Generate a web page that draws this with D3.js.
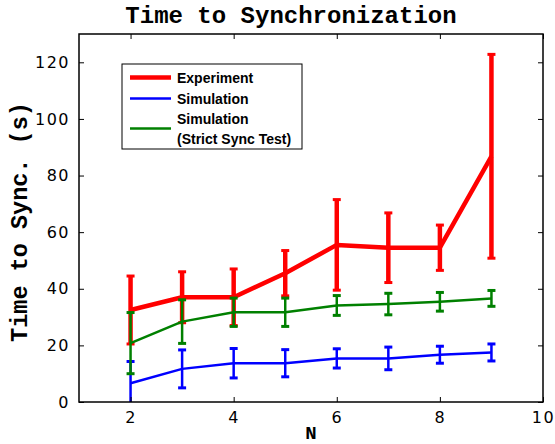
<!DOCTYPE html>
<html>
<head>
<meta charset="utf-8">
<script src="https://cdn.jsdelivr.net/npm/d3@7"></script>
<style>
  body { margin: 0; background: #fff; }
</style>
</head>
<body>
<div id="chart"></div>
<script>
// values
const nValues = [2, 3, 4, 5, 6, 7, 8, 9];
const expMean = [32.5, 37, 37, 45.5, 55.5, 54.5, 54.5, 86.8];
const expErr  = [12, 9, 10, 8, 16, 12.3, 8, 36];
const simMean = [6.6, 11.7, 13.7, 13.7, 15.4, 15.4, 16.7, 17.5];
const simErr  = [7.7, 6.7, 5.2, 4.8, 3.4, 4, 3, 3];
const strictMean = [20.8, 28.4, 31.7, 31.7, 34.1, 34.6, 35.4, 36.6];
const strictErr  = [10.8, 7.7, 5, 5, 3.5, 3.8, 3.3, 2.8];
const xTicks = [2, 4, 6, 8, 10];
const yTicks = [0, 20, 40, 60, 80, 100, 120];

const series = [
  {name: "Experiment", mean: expMean, err: expErr, color: "#ff0000", lw: 4.5},
  {name: "Simulation", mean: simMean, err: simErr, color: "#0000ff", lw: 2.5},
  {name: "Simulation (Strict Sync Test)", mean: strictMean, err: strictErr, color: "#008000", lw: 2.5}
];

const W = 555, H = 444;
const margin = {left: 79, right: 12, top: 34, bottom: 42};
const svg = d3.select("#chart").append("svg").attr("width", W).attr("height", H);

const x = d3.scaleLinear([1, 10], [margin.left, W - margin.right]);
const y = d3.scaleLinear([0, 130], [H - margin.bottom, margin.top]);

svg.append("clipPath").attr("id", "plotclip")
  .append("rect")
  .attr("x", x(1)).attr("y", y(130))
  .attr("width", x(10) - x(1)).attr("height", y(0) - y(130));

const plot = svg.append("g").attr("clip-path", "url(#plotclip)");

series.forEach(s => {
  const pts = nValues.map((n, i) => ({n, m: s.mean[i], e: s.err[i]}));
  const g = plot.append("g");
  // error bars
  g.selectAll("line.bar").data(pts).enter().append("line")
    .attr("x1", d => x(d.n)).attr("x2", d => x(d.n))
    .attr("y1", d => y(d.m - d.e)).attr("y2", d => y(d.m + d.e))
    .attr("stroke", s.color).attr("stroke-width", s.lw);
  // caps
  [-1, 1].forEach(sign => {
    g.selectAll(null).data(pts).enter().append("line")
      .attr("x1", d => x(d.n) - 4).attr("x2", d => x(d.n) + 4)
      .attr("y1", d => y(d.m + sign * d.e)).attr("y2", d => y(d.m + sign * d.e))
      .attr("stroke", s.color).attr("stroke-width", 3);
  });
  g.append("path").datum(pts)
    .attr("fill", "none").attr("stroke", s.color).attr("stroke-width", s.lw)
    .attr("stroke-linejoin", "round")
    .attr("d", d3.line().x(d => x(d.n)).y(d => y(d.m)));
});

// axes with inside ticks on all four sides
const tickFont = "DejaVu Sans";
const axB = svg.append("g").attr("transform", `translate(0,${y(0)})`)
  .call(d3.axisBottom(x).tickValues(xTicks).tickSizeInner(-5).tickSizeOuter(0).tickPadding(10));
const axT = svg.append("g").attr("transform", `translate(0,${y(130)})`)
  .call(d3.axisTop(x).tickValues(xTicks).tickSizeInner(-5).tickSizeOuter(0).tickFormat(""));
const axL = svg.append("g").attr("transform", `translate(${x(1)},0)`)
  .call(d3.axisLeft(y).tickValues(yTicks).tickSizeInner(-5).tickSizeOuter(0).tickPadding(9));
const axR = svg.append("g").attr("transform", `translate(${x(10)},0)`)
  .call(d3.axisRight(y).tickValues(yTicks).tickSizeInner(-5).tickSizeOuter(0).tickFormat(""));
[axB, axT, axL, axR].forEach(a => {
  a.select(".domain").remove();
  a.selectAll("text").attr("font-family", tickFont).attr("font-size", 16)
    .attr("letter-spacing", "1.5px").attr("fill", "#000");
  a.selectAll("line").attr("stroke", "#000").attr("stroke-width", 1);
});
axB.selectAll("text").attr("dy", "0.71em");

svg.append("rect")
  .attr("x", x(1)).attr("y", y(130))
  .attr("width", x(10) - x(1)).attr("height", y(0) - y(130))
  .attr("fill", "none").attr("stroke", "#000").attr("stroke-width", 1.5);

// title and axis labels
const mono = "'Liberation Mono', 'Courier New', monospace";
svg.append("text").attr("x", 291).attr("y", 23)
  .attr("text-anchor", "middle").attr("font-family", mono).attr("font-weight", "bold")
  .attr("font-size", 24).text("Time to Synchronization");
svg.append("text").attr("x", 311).attr("y", 439)
  .attr("text-anchor", "middle").attr("font-family", mono).attr("font-weight", "bold")
  .attr("font-size", 19).text("N");
svg.append("text")
  .attr("transform", `translate(27,222) rotate(-90)`)
  .attr("text-anchor", "middle").attr("font-family", mono).attr("font-weight", "bold")
  .attr("font-size", 23.5).text("Time to Sync. (s)");

// legend
const leg = svg.append("g");
leg.append("rect").attr("x", 122).attr("y", 64).attr("width", 180).attr("height", 85)
  .attr("fill", "#fff").attr("stroke", "#000").attr("stroke-width", 1);
const legRows = [
  {lines: ["Experiment"], ly: 77.5},
  {lines: ["Simulation"], ly: 98.5},
  {lines: ["Simulation", "(Strict Sync Test)"], ly: 128.5}
];
const legText = [[82.5], [104], [124, 143.5]];
legRows.forEach((r, i) => {
  leg.append("line").attr("x1", 130).attr("x2", 171).attr("y1", r.ly).attr("y2", r.ly)
    .attr("stroke", series[i].color).attr("stroke-width", series[i].lw);
  r.lines.forEach((t, j) => {
    leg.append("text").attr("x", 177).attr("y", legText[i][j])
      .attr("font-family", "'Liberation Sans', Arial, sans-serif").attr("font-weight", "bold")
      .attr("font-size", 14).text(t);
  });
});
</script>
</body>
</html>
